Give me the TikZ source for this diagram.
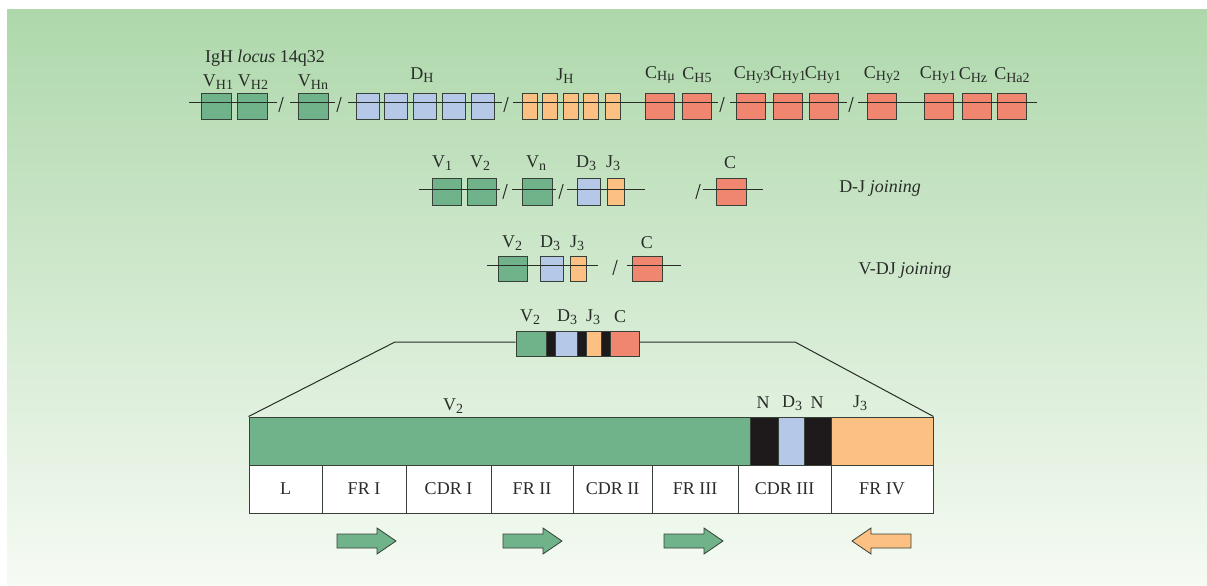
\documentclass[tikz,border=0pt]{standalone}
\usepackage{fontspec}
\setmainfont{Liberation Serif}

\definecolor{bgtop}{RGB}{174,216,171}
\definecolor{bgmid}{RGB}{200,228,196}
\definecolor{bgbot}{RGB}{246,251,244}
\definecolor{vgreen}{RGB}{112,178,137}
\definecolor{dblue}{RGB}{181,200,232}
\definecolor{jorange}{RGB}{251,192,130}
\definecolor{csalmon}{RGB}{240,134,112}
\definecolor{nblack}{RGB}{30,26,28}
\definecolor{edge}{RGB}{55,65,55}
\definecolor{ink}{RGB}{40,45,40}

% lowered, slightly smaller index for gene segment names
\newcommand\gsub[1]{\raisebox{-0.3ex}{\fontsize{7}{8}\selectfont #1}}

\begin{document}
\begin{tikzpicture}[x=0.5pt, y=-0.5pt,
    seg/.style = {draw=ink, line width=0.5pt},
    gene/.style = {draw=edge, line width=0.5pt, inner sep=0pt, minimum height=13pt},
    lbl/.style = {text=ink, font=\fontsize{9}{10}\selectfont, inner sep=0pt},
    cell/.style = {draw=edge, fill=white, line width=0.5pt, inner sep=0pt, minimum height=24pt,
      text=ink, font=\fontsize{9}{10}\selectfont},
    arr/.style = {draw=edge, line width=0.4pt, line join=miter}]

  \useasboundingbox (0,0) rectangle (1207,585);
  \shade[top color=bgtop, middle color=bgmid, bottom color=bgbot] (7,9) rectangle (1207,585);

  % --- germline IgH locus ---
  \def\ya{102}
  \node[gene, fill=vgreen, minimum width=15pt] (vh1) at (216.5,106) {};
  \node[gene, fill=vgreen, minimum width=15pt] (vh2) at (252.5,106) {};
  \node[gene, fill=vgreen, minimum width=15pt] (vhn) at (313,106) {};
  \foreach \x [count=\i] in {367.5,396,425,454,482.5}
    \node[gene, fill=dblue, minimum width=11.5pt] (dh\i) at (\x,106) {};
  \foreach \x [count=\i] in {529.5,549.5,570.5,590.5,612.5}
    \node[gene, fill=jorange, minimum width=7.5pt] (jh\i) at (\x,106) {};
  \foreach \x [count=\i] in {659.5,696.5,751,787.5,823.5,881.5,938.5,976.5,1012}
    \node[gene, fill=csalmon, minimum width=14.5pt] (ch\i) at (\x,106) {};

  \draw[seg] (189,\ya) -- (277,\ya);
  \draw[seg] (290,\ya) -- (335,\ya);
  \draw[seg] (348,\ya) -- (502,\ya);
  \draw[seg] (513,\ya) -- (718,\ya);
  \draw[seg] (730,\ya) -- (847,\ya);
  \draw[seg] (858,\ya) -- (1037,\ya);
  \foreach \x in {281,339,506,722,851}
    \draw[seg] (\x-2.2,\ya+10) -- (\x+2.2,\ya-5);

  \node[lbl] (locus) at (265,58) {IgH \textit{locus} 14q32};
  \node[lbl] (l-vh1) at (218,82) {V\gsub{H1}};
  \node[lbl] (l-vh2) at (253,82) {V\gsub{H2}};
  \node[lbl] (l-vhn) at (313,82) {V\gsub{Hn}};
  \node[lbl] (l-dh) at (422,75) {D\gsub{H}};
  \node[lbl] (l-jh) at (565,76) {J\gsub{H}};
  \foreach \x/\s [count=\i] in {660/Hμ, 697/H5, 752/Hy3, 788/Hy1, 823/Hy1,
      882/Hy2, 938/Hy1, 973/Hz, 1012/Ha2}
    \node[lbl] (l-ch\i) at (\x,75) {C\gsub{\s}};

  % --- D-J joining ---
  \def\yb{189}
  \node[gene, fill=vgreen, minimum width=14.5pt, minimum height=13.5pt] (v1) at (446.5,191.5) {};
  \node[gene, fill=vgreen, minimum width=14.5pt, minimum height=13.5pt] (v2) at (481.5,191.5) {};
  \node[gene, fill=vgreen, minimum width=15pt, minimum height=13.5pt] (vn) at (537,191.5) {};
  \node[gene, fill=dblue, minimum width=11.5pt, minimum height=13.5pt] (d3) at (588.5,191.5) {};
  \node[gene, fill=jorange, minimum width=8.5pt, minimum height=13.5pt] (j3) at (615.5,191.5) {};
  \node[gene, fill=csalmon, minimum width=15pt, minimum height=13.5pt] (c) at (731,191.5) {};

  \draw[seg] (419,\yb) -- (500,\yb);
  \draw[seg] (512,\yb) -- (556,\yb);
  \draw[seg] (567,\yb) -- (645,\yb);
  \draw[seg] (703,\yb) -- (763,\yb);
  \foreach \x in {505,561,698}
    \draw[seg] (\x-2.2,\yb+10) -- (\x+2.2,\yb-5);

  \node[lbl] (l-v1) at (442,163) {V\gsub{1}};
  \node[lbl] (l-v2) at (480,163) {V\gsub{2}};
  \node[lbl] (l-vn) at (536,163) {V\gsub{n}};
  \node[lbl] (l-d3) at (586,163) {D\gsub{3}};
  \node[lbl] (l-j3) at (613,163) {J\gsub{3}};
  \node[lbl] (l-c) at (730,163) {C};
  \node[lbl] (dj) at (880,188) {D-J \textit{joining}};

  % --- V-DJ joining ---
  \def\yc{265}
  \node[gene, fill=vgreen, minimum width=14.5pt, minimum height=12.5pt] (vdj-v2) at (512.5,268.5) {};
  \node[gene, fill=dblue, minimum width=11.5pt, minimum height=12.5pt] (vdj-d3) at (551.5,268.5) {};
  \node[gene, fill=jorange, minimum width=8pt, minimum height=12.5pt] (vdj-j3) at (578,268.5) {};
  \node[gene, fill=csalmon, minimum width=15pt, minimum height=12.5pt] (vdj-c) at (647,268.5) {};

  \draw[seg] (487,\yc) -- (598,\yc);
  \draw[seg] (627,\yc) -- (681,\yc);
  \draw[seg] (615-2.2,\yc+10) -- (615+2.2,\yc-5);

  \node[lbl] (l-vdj-v2) at (512,243) {V\gsub{2}};
  \node[lbl] (l-vdj-d3) at (550,243) {D\gsub{3}};
  \node[lbl] (l-vdj-j3) at (577,243) {J\gsub{3}};
  \node[lbl] (l-vdj-c) at (647,243) {C};
  \node[lbl] (vdj) at (905,270) {V-DJ \textit{joining}};

  % --- rearranged gene ---
  \node[gene, fill=vgreen, minimum width=15pt, minimum height=12.5pt] (r-v2) at (531,343.5) {};
  \node[gene, fill=nblack, minimum width=4.5pt, minimum height=12.5pt] (r-n1) at (550.5,343.5) {};
  \node[gene, fill=dblue, minimum width=11pt, minimum height=12.5pt] (r-d3) at (566,343.5) {};
  \node[gene, fill=nblack, minimum width=4.5pt, minimum height=12.5pt] (r-n2) at (581.5,343.5) {};
  \node[gene, fill=jorange, minimum width=7.5pt, minimum height=12.5pt] (r-j3) at (593.5,343.5) {};
  \node[gene, fill=nblack, minimum width=4.5pt, minimum height=12.5pt] (r-n3) at (605.5,343.5) {};
  \node[gene, fill=csalmon, minimum width=14.5pt, minimum height=12.5pt] (r-c) at (624.5,343.5) {};

  \node[lbl] (l-r-v2) at (530,317) {V\gsub{2}};
  \node[lbl] (l-r-d3) at (567,317) {D\gsub{3}};
  \node[lbl] (l-r-j3) at (593,317) {J\gsub{3}};
  \node[lbl] (l-r-c) at (620,317) {C};

  % --- V domain, enlarged ---
  \node[gene, fill=vgreen, minimum width=250.5pt, minimum height=24pt] (bar-v2) at (499.5,441) {};
  \node[gene, fill=nblack, minimum width=14pt, minimum height=24pt] (bar-n1) at (764,441) {};
  \node[gene, fill=dblue, minimum width=13pt, minimum height=24pt] (bar-d3) at (791,441) {};
  \node[gene, fill=nblack, minimum width=13.5pt, minimum height=24pt] (bar-n2) at (817.5,441) {};
  \node[gene, fill=jorange, minimum width=51pt, minimum height=24pt] (bar-j3) at (882,441) {};

  \coordinate (kl) at (395,342);
  \coordinate (kr) at (795,342);
  \draw[seg] (bar-v2.north west) -- (kl) -- (kl -| r-v2.west);
  \draw[seg] (kr -| r-c.east) -- (kr) -- (bar-j3.north east);

  \node[lbl] (l-bar-v2) at (453,406) {V\gsub{2}};
  \node[lbl] (l-bar-n1) at (763,403) {N};
  \node[lbl] (l-bar-d3) at (792,403) {D\gsub{3}};
  \node[lbl] (l-bar-n2) at (817,403) {N};
  \node[lbl] (l-bar-j3) at (860,403) {J\gsub{3}};

  \foreach \a/\b/\t [count=\i] in {249/322/L, 322/406/FR I, 406/491/CDR I,
      491/573/FR II, 573/652/CDR II, 652/738/FR III, 738/831/CDR III, 831/933/FR IV}
    \node[cell, minimum width={(\b-\a)*0.5pt}] (cell\i) at ({(\a+\b)/2},489) {\t};

  % primer directions
  \foreach \x in {337,503,664}
    \draw[arr, fill=vgreen] (\x,534) -- ++(40,0) -- ++(0,-6) -- ++(19,13)
      -- ++(-19,13) -- ++(0,-6) -- ++(-40,0) -- cycle;
  \draw[arr, fill=jorange] (911,534) -- ++(-40,0) -- ++(0,-6) -- ++(-19,13)
      -- ++(19,13) -- ++(0,-6) -- ++(40,0) -- cycle;
\end{tikzpicture}
\end{document}
